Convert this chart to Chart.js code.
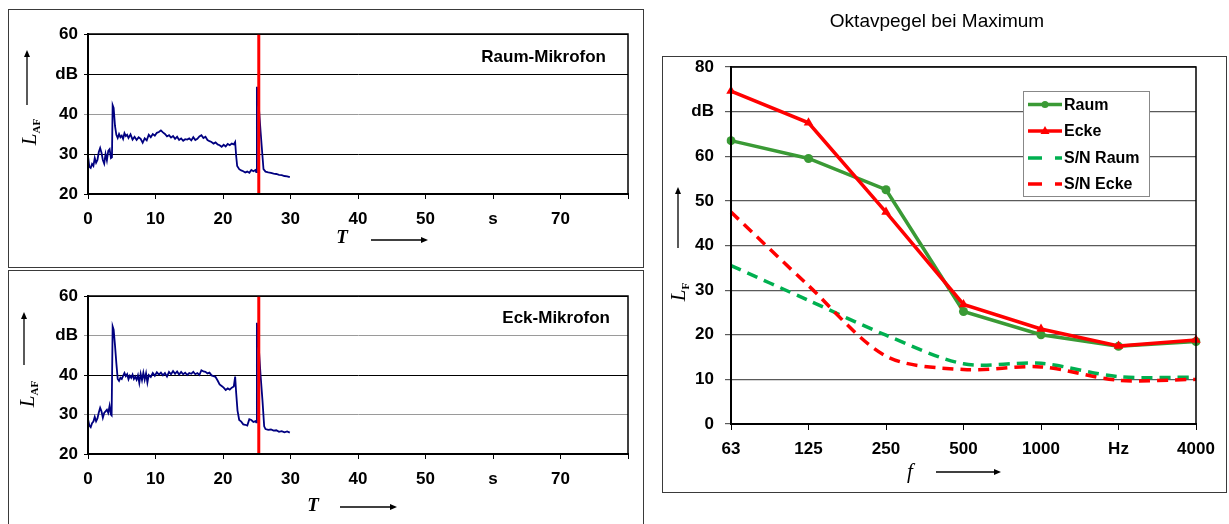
<!DOCTYPE html>
<html>
<head>
<meta charset="utf-8">
<script src="https://cdn.jsdelivr.net/npm/chart.js@4.4.1/dist/chart.umd.min.js"></script>
<style>
  html, body { margin: 0; padding: 0; background: #fff; }
  body { width: 1229px; height: 524px; position: relative; overflow: hidden; }
  .box { position: absolute; border: 1px solid #3a3a3a; box-sizing: border-box; }
  canvas { position: absolute; }
</style>
</head>
<body>
<div class="box" style="left:8px;top:9px;width:636px;height:259px;"></div>
<div class="box" style="left:8px;top:270px;width:636px;height:262px;"></div>
<div class="box" style="left:662px;top:56px;width:565px;height:437px;"></div>
<canvas id="cRaum" width="650" height="268" style="left:0;top:0;"></canvas>
<canvas id="cEck" width="650" height="256" style="left:0;top:268px;"></canvas>
<canvas id="cOkt" width="579" height="524" style="left:650px;top:0;"></canvas>
<script>
// ---------- DATA ----------
const raumT = [0,0.2,0.4,0.6,0.8,1.0,1.2,1.4,1.6,1.8,2.0,2.2,2.4,2.6,2.8,3.0,3.2,3.4,3.55,3.65,3.8,4.0,4.2,4.4,4.6,4.8,5.0,5.2,5.4,5.6,5.8,6.0,6.3,6.6,6.9,7.2,7.5,7.8,8.1,8.4,8.7,9.0,9.3,9.6,9.9,10.2,10.5,10.8,11.1,11.4,11.7,12.0,12.3,12.6,12.9,13.2,13.5,13.8,14.1,14.4,14.7,15.0,15.3,15.6,15.9,16.2,16.5,16.8,17.1,17.4,17.7,18.0,18.3,18.6,18.9,19.2,19.5,19.8,20.1,20.4,20.7,21.0,21.3,21.6,21.8,21.95,22.1,22.4,22.7,23.0,23.3,23.6,23.9,24.2,24.5,24.8,24.92,25.02,25.3,25.55,25.8,26.0,26.3,26.7,27.1,27.5,27.9,28.3,28.7,29.1,29.5,29.9];
const raumL = [29.5,26.8,26.5,27.5,27.0,29.0,27.8,28.5,30.5,31.5,30.3,28.5,27.6,30.0,28.4,30.8,31.2,29.0,29.2,42.2,41.5,37.0,34.8,34.0,35.0,34.2,34.6,33.8,35.2,34.5,34.8,34.0,34.9,33.6,34.3,33.5,34.2,33.8,32.8,33.9,33.4,34.8,34.2,35.0,34.6,35.3,35.5,35.9,35.4,35.0,34.4,34.7,34.1,34.5,33.8,34.3,33.5,33.9,33.3,33.7,33.6,33.9,33.4,34.2,33.5,33.8,34.4,34.7,34.0,34.3,33.5,33.2,33.0,32.6,32.9,32.4,32.2,31.8,32.3,31.9,32.5,32.2,32.6,32.4,33.0,29.5,27.0,26.2,25.9,25.7,25.4,25.6,25.3,26.0,25.7,26.0,25.5,46.8,42.0,36.0,30.5,26.2,25.6,25.4,25.3,25.1,25.0,24.8,24.7,24.5,24.4,24.2];

const eckT = [0,0.2,0.4,0.6,0.8,1.0,1.2,1.4,1.6,1.8,2.0,2.2,2.4,2.6,2.8,3.0,3.2,3.4,3.5,3.65,3.8,4.0,4.2,4.4,4.6,4.8,5.0,5.2,5.4,5.6,5.8,6.0,6.2,6.4,6.6,6.8,7.0,7.2,7.4,7.6,7.8,8.0,8.2,8.4,8.6,8.8,9.0,9.3,9.6,9.9,10.2,10.5,10.8,11.1,11.4,11.7,12.0,12.3,12.6,12.9,13.2,13.5,13.8,14.1,14.4,14.7,15.0,15.3,15.6,15.9,16.2,16.5,16.8,17.1,17.4,17.7,18.0,18.3,18.6,18.9,19.2,19.5,19.8,20.1,20.4,20.7,21.0,21.3,21.6,21.8,21.95,22.15,22.4,22.7,23.0,23.3,23.6,23.9,24.2,24.5,24.8,24.92,25.02,25.3,25.55,25.85,26.1,26.3,26.7,27.1,27.5,27.9,28.3,28.7,29.1,29.5,29.9];
const eckL = [28.8,27.2,26.8,27.8,28.2,29.4,28.3,29.0,30.5,31.7,30.8,29.2,30.4,30.8,31.2,30.4,32.2,30.0,29.8,52.3,51.5,47.5,43.0,39.0,38.5,39.3,39.0,39.8,40.5,39.7,40.2,38.9,39.8,39.3,40.1,39.0,39.6,38.8,39.9,38.0,40.3,38.7,40.6,38.8,40.4,38.1,40.0,39.5,40.5,39.8,40.7,40.1,40.6,39.9,40.5,39.6,40.8,40.2,41.0,40.3,40.9,40.1,40.8,40.2,40.6,40.0,40.5,40.3,40.8,40.2,40.5,40.0,41.2,40.9,40.8,40.4,40.6,39.9,39.7,39.5,38.6,37.6,37.2,36.8,36.2,36.6,36.3,36.8,37.1,39.6,35.5,31.0,28.6,28.2,27.5,27.4,27.2,28.8,28.6,28.1,28.3,28.0,53.2,47.0,40.3,33.5,27.0,26.3,26.1,26.2,25.9,26.0,25.6,25.8,25.5,25.7,25.4];

const markerT = 25.3;
const levelTicks = ['20','30','40','dB','60'];
const timeTicks = ['0','10','20','30','40','50','s','70',''];

const freqCategories = ['63','125','250','500','1000','2000','4000'];
const freqTicks = ['63','125','250','500','1000','Hz','4000'];
const octTicks = ['0','10','20','30','40','50','60','dB','80'];
const raumMax = [63.5,59.5,52.5,25.2,20.0,17.4,18.5];
const eckeMax = [74.6,67.5,47.5,26.8,21.3,17.5,18.8];
const snRaum = [35.5,27.7,19.9,13.5,13.6,10.6,10.5];
const snEcke = [47.5,31.0,15.2,12.2,12.8,9.8,10.0];

// ---------- helpers ----------
const SANS = "'Liberation Sans', Arial, sans-serif";
const SERIF = "'Liberation Serif', 'Times New Roman', serif";

function arrow(ctx, x1, y1, x2, y2) {
  ctx.save();
  ctx.strokeStyle = '#000'; ctx.fillStyle = '#000'; ctx.lineWidth = 1.3;
  const a = Math.atan2(y2 - y1, x2 - x1);
  const hl = 7, hw = 3;
  ctx.beginPath(); ctx.moveTo(x1, y1);
  ctx.lineTo(x2 - hl * Math.cos(a), y2 - hl * Math.sin(a)); ctx.stroke();
  ctx.beginPath();
  ctx.moveTo(x2, y2);
  ctx.lineTo(x2 - hl * Math.cos(a) + hw * Math.sin(a), y2 - hl * Math.sin(a) - hw * Math.cos(a));
  ctx.lineTo(x2 - hl * Math.cos(a) - hw * Math.sin(a), y2 - hl * Math.sin(a) + hw * Math.cos(a));
  ctx.closePath(); ctx.fill();
  ctx.restore();
}

const decor = {
  id: 'decor',
  afterDraw(chart, args, o) {
    const ctx = chart.ctx, a = chart.chartArea;
    ctx.save();
    ctx.strokeStyle = '#000'; ctx.lineWidth = o.frameWidth || 1.5;
    ctx.strokeRect(a.left, a.top, a.right - a.left, a.bottom - a.top);
    ctx.lineWidth = 2;
    ctx.beginPath(); ctx.moveTo(a.left, a.top); ctx.lineTo(a.left, a.bottom); ctx.lineTo(a.right, a.bottom); ctx.stroke();
    (o.texts || []).forEach(t => {
      ctx.font = t.font; ctx.fillStyle = t.color || '#000';
      ctx.textAlign = t.align || 'left'; ctx.textBaseline = 'middle';
      ctx.fillText(t.text, t.x, t.y);
    });
    if (o.yTitle) {
      const y = o.yTitle;
      ctx.save();
      ctx.translate(y.x, y.y); ctx.rotate(-Math.PI / 2);
      ctx.font = y.mainFont; ctx.fillStyle = '#000'; ctx.textBaseline = 'alphabetic'; ctx.textAlign = 'left';
      const wm = ctx.measureText(y.main).width;
      ctx.font = y.subFont;
      const ws = ctx.measureText(y.sub).width;
      const x0 = -(wm + ws) / 2;
      ctx.font = y.mainFont; ctx.fillText(y.main, x0, 6);
      ctx.font = y.subFont; ctx.fillText(y.sub, x0 + wm, 10);
      ctx.restore();
    }
    (o.arrows || []).forEach(r => arrow(ctx, r[0], r[1], r[2], r[3]));
    if (o.legend) {
      const L = o.legend;
      ctx.fillStyle = '#fff'; ctx.fillRect(L.x, L.y, L.w, L.h);
      ctx.strokeStyle = '#888'; ctx.lineWidth = 1;
      ctx.strokeRect(L.x + 0.5, L.y + 0.5, L.w, L.h);
      chart.data.datasets.forEach((ds, i) => {
        const yy = L.rows[i];
        ctx.save();
        ctx.strokeStyle = ds.borderColor; ctx.lineWidth = ds.borderWidth;
        ctx.setLineDash(ds.borderDash && ds.borderDash.length ? [14, 13] : []);
        ctx.beginPath(); ctx.moveTo(L.x + 5, yy); ctx.lineTo(L.x + 39, yy); ctx.stroke();
        ctx.setLineDash([]);
        const cx = L.x + 22;
        ctx.fillStyle = ds.borderColor;
        if (ds.pointRadius > 0) {
          if (ds.pointStyle === 'triangle') {
            ctx.beginPath(); ctx.moveTo(cx, yy - 5); ctx.lineTo(cx + 4.5, yy + 3); ctx.lineTo(cx - 4.5, yy + 3); ctx.closePath(); ctx.fill();
          } else {
            ctx.beginPath(); ctx.arc(cx, yy, 3.5, 0, Math.PI * 2); ctx.fill();
          }
        }
        ctx.restore();
        ctx.font = L.font; ctx.fillStyle = '#000'; ctx.textAlign = 'left'; ctx.textBaseline = 'middle';
        ctx.fillText(ds.label, L.x + 41, yy + 1);
      });
    }
    ctx.restore();
  }
};

function toXY(ts, ls) { return ts.map((t, i) => ({ x: t, y: ls[i] })); }

function timeChart(id, ts, ls, gridDark, opts) {
  return new Chart(document.getElementById(id), {
    type: 'line',
    data: {
      datasets: [
        { label: 'Marker', data: [{ x: markerT, y: 20 }, { x: markerT, y: 60 }], borderColor: '#ff0000', borderWidth: 3, pointRadius: 0 },
        { label: 'LAF', data: toXY(ts, ls), borderColor: '#000080', borderWidth: 1.8, pointRadius: 0, tension: 0 }
      ]
    },
    plugins: [decor],
    options: {
      responsive: false, animation: false, devicePixelRatio: 1,
      layout: { padding: { left: 0, top: opts.top, right: 22, bottom: 0 } },
      plugins: { legend: { display: false }, tooltip: { enabled: false }, decor: opts.decor },
      scales: {
        x: {
          type: 'linear', min: 0, max: 80,
          afterFit: s => { s.height = opts.xh; },
          border: { display: true, color: '#000', width: 2 },
          grid: { drawOnChartArea: false, drawTicks: true, tickLength: 5, color: '#000' },
          ticks: { stepSize: 10, autoSkip: false, maxRotation: 0, padding: 10, color: '#000',
                   font: { family: SANS, size: 17, weight: 'bold' },
                   callback: (v, i) => timeTicks[i] }
        },
        y: {
          min: 20, max: 60,
          afterFit: s => { s.width = 88; },
          border: { display: true, color: '#000', width: 2 },
          grid: { color: c => (gridDark.includes(c.tick.value) ? '#000' : '#9a9a9a'), lineWidth: 1, tickLength: 4 },
          ticks: { stepSize: 10, padding: 6, color: '#000',
                   font: { family: SANS, size: 17, weight: 'bold' },
                   callback: (v, i) => levelTicks[i] }
        }
      }
    }
  });
}

timeChart('cRaum', raumT, raumL, [20, 30, 50, 60], {
  top: 34, xh: 74,
  decor: {
    texts: [
      { text: 'Raum-Mikrofon', x: 606, y: 57, align: 'right', font: 'bold 17px ' + SANS },
      { text: 'T', x: 342, y: 238, align: 'center', font: 'italic bold 19px ' + SERIF }
    ],
    yTitle: { x: 30, y: 132, main: 'L', sub: 'AF', mainFont: 'italic 21px ' + SERIF, subFont: 'bold 11px ' + SERIF },
    arrows: [[27, 105, 27, 50], [371, 240, 428, 240]]
  }
});

timeChart('cEck', eckT, eckL, [20, 40, 60], {
  top: 28, xh: 70,
  decor: {
    texts: [
      { text: 'Eck-Mikrofon', x: 610, y: 50, align: 'right', font: 'bold 17px ' + SANS },
      { text: 'T', x: 313, y: 238, align: 'center', font: 'italic bold 19px ' + SERIF }
    ],
    yTitle: { x: 28, y: 126, main: 'L', sub: 'AF', mainFont: 'italic 21px ' + SERIF, subFont: 'bold 11px ' + SERIF },
    arrows: [[24, 97, 24, 44], [340, 239, 397, 239]]
  }
});

new Chart(document.getElementById('cOkt'), {
  type: 'line',
  data: {
    labels: freqCategories,
    datasets: [
      { label: 'Raum', data: raumMax, borderColor: '#3a9a35', backgroundColor: '#3a9a35', borderWidth: 3.5, pointStyle: 'circle', pointRadius: 4.5, pointBorderWidth: 0, order: 1 },
      { label: 'Ecke', data: eckeMax, borderColor: '#ff0000', backgroundColor: '#ff0000', borderWidth: 3.5, pointStyle: 'triangle', pointRadius: 5.5, pointBorderWidth: 0, order: 0 },
      { label: 'S/N Raum', data: snRaum, borderColor: '#00b050', borderWidth: 3.5, borderDash: [11, 7], pointRadius: 0, tension: 0.3, order: 3 },
      { label: 'S/N Ecke', data: snEcke, borderColor: '#ff0000', borderWidth: 3.5, borderDash: [11, 7], pointRadius: 0, tension: 0.3, order: 2 }
    ]
  },
  plugins: [decor],
  options: {
    responsive: false, animation: false, devicePixelRatio: 1,
    layout: { padding: { left: 0, top: 67, right: 33, bottom: 0 } },
    plugins: {
      legend: { display: false }, tooltip: { enabled: false },
      decor: {
        texts: [
          { text: 'Oktavpegel bei Maximum', x: 287, y: 22, align: 'center', font: '19px ' + SANS },
          { text: 'f', x: 260, y: 472, align: 'center', font: 'italic 21px ' + SERIF }
        ],
        yTitle: { x: 29, y: 292, main: 'L', sub: 'F', mainFont: 'italic 21px ' + SERIF, subFont: 'bold 11px ' + SERIF },
        arrows: [[28, 248, 28, 187], [286, 472, 351, 472]],
        legend: { x: 373, y: 91, w: 126, h: 105, rows: [104.5, 131, 158, 184], font: 'bold 16px ' + SANS }
      }
    },
    scales: {
      x: {
        type: 'category', offset: false,
        afterFit: s => { s.height = 100; },
        border: { display: true, color: '#000', width: 2 },
        grid: { drawOnChartArea: false, drawTicks: true, tickLength: 6, color: '#000' },
        ticks: { autoSkip: false, maxRotation: 0, padding: 9, color: '#000',
                 font: { family: SANS, size: 17, weight: 'bold' },
                 callback: (v, i) => freqTicks[i] }
      },
      y: {
        min: 0, max: 80,
        afterFit: s => { s.width = 81; },
        border: { display: true, color: '#000', width: 2 },
        grid: { color: '#5a5a5a', lineWidth: 1.2, tickLength: 6 },
        ticks: { stepSize: 10, padding: 11, color: '#000',
                 font: { family: SANS, size: 17, weight: 'bold' },
                 callback: (v, i) => octTicks[i] }
      }
    }
  }
});
</script>
</body>
</html>
